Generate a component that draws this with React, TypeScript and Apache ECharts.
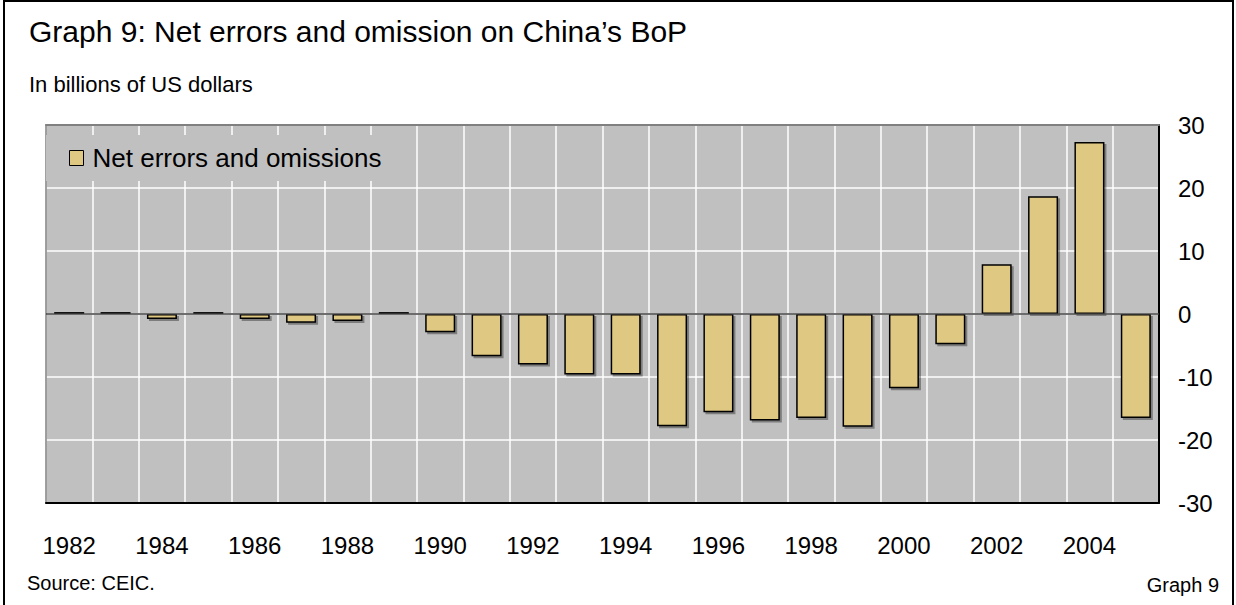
import React, { useEffect, useRef } from "react";
import * as echarts from "echarts";

const years: string[] = [
  "1982", "1983", "1984", "1985", "1986", "1987", "1988", "1989",
  "1990", "1991", "1992", "1993", "1994", "1995", "1996", "1997",
  "1998", "1999", "2000", "2001", "2002", "2003", "2004", "2005",
];
const netErrors: number[] = [
  0.3, 0.3, -0.8, 0.3, -0.8, -1.4, -1.1, 0.3,
  -2.9, -6.7, -8.0, -9.6, -9.6, -17.8, -15.6, -16.9,
  -16.5, -17.9, -11.8, -4.8, 7.9, 18.7, 27.3, -16.5,
];
const seriesName = "Net errors and omissions";
const titleText = "Graph 9: Net errors and omission on China\u2019s BoP";
const subtitleText = "In billions of US dollars";
const sourceText = "Source: CEIC.";
const footerText = "Graph 9";

const FONT = "'Liberation Sans', Arial, Helvetica, sans-serif";

export default function App() {
  const ref = useRef<HTMLDivElement>(null);
  useEffect(() => {
    if (!ref.current) return;
    const chart = echarts.init(ref.current, null, { renderer: "svg" });
    chart.setOption({
      animation: false,
      backgroundColor: "#ffffff",
      textStyle: { fontFamily: FONT },
      title: [
        {
          text: titleText,
          left: 29,
          top: 16,
          padding: 0,
          textStyle: { fontSize: 30, fontWeight: "normal", color: "#000", fontFamily: FONT },
        },
        {
          text: subtitleText,
          left: 29,
          top: 73,
          padding: 0,
          textStyle: { fontSize: 22, fontWeight: "normal", color: "#000", fontFamily: FONT },
        },
        {
          text: sourceText,
          left: 27,
          top: 573,
          padding: 0,
          textStyle: { fontSize: 20, fontWeight: "normal", color: "#000", fontFamily: FONT },
        },
        {
          text: footerText,
          right: 17,
          top: 575,
          padding: 0,
          textStyle: { fontSize: 20, fontWeight: "normal", color: "#000", fontFamily: FONT },
        },
      ],
      legend: {
        data: [seriesName],
        left: 46,
        top: 135,
        orient: "horizontal",
        padding: [10, 6, 10, 23],
        backgroundColor: "#c0c0c0",
        itemWidth: 14,
        itemHeight: 15,
        itemGap: 10,
        icon: "rect",
        itemStyle: {
          color: "#dfc882",
          borderColor: "#000",
          borderWidth: 1,
          shadowBlur: 0,
          shadowOffsetX: 0,
          shadowOffsetY: 0,
          shadowColor: "transparent",
        },
        textStyle: { fontSize: 26, color: "#000", fontFamily: FONT, padding: [0, 0, 0, 4] },
        selectedMode: false,
      },
      grid: {
        left: 46,
        top: 125,
        width: 1113,
        height: 378,
        show: true,
        backgroundColor: "#c0c0c0",
        borderWidth: 0,
      },
      xAxis: [
        {
          type: "category",
          data: years,
          position: "bottom",
          boundaryGap: true,
          axisLine: { onZero: false, lineStyle: { color: "#000", width: 2 } },
          axisTick: { show: false },
          axisLabel: {
            interval: 1,
            fontSize: 24,
            color: "#000",
            margin: 30,
            fontFamily: FONT,
          },
          splitLine: { show: true, interval: 0, lineStyle: { color: "#ffffff", width: 1.5 } },
        },
        {
          type: "category",
          data: years,
          position: "top",
          boundaryGap: true,
          axisLine: { onZero: false, lineStyle: { color: "#808080", width: 2 } },
          axisTick: { show: false },
          axisLabel: { show: false },
          splitLine: { show: false },
        },
      ],
      yAxis: [
        {
          type: "value",
          position: "right",
          min: -30,
          max: 30,
          interval: 10,
          axisLine: { show: true, lineStyle: { color: "#000", width: 2 } },
          axisTick: { show: false },
          axisLabel: {
            fontSize: 24,
            color: "#000",
            margin: 19,
            align: "left",
            fontFamily: FONT,
          },
          splitLine: { show: true, lineStyle: { color: "#ffffff", width: 1.5 } },
        },
        {
          type: "value",
          position: "left",
          min: -30,
          max: 30,
          interval: 10,
          axisLine: { show: true, onZero: false, lineStyle: { color: "#808080", width: 1.5 } },
          axisTick: { show: false },
          axisLabel: { show: false },
          splitLine: { show: false },
        },
      ],
      series: [
        {
          name: seriesName,
          type: "bar",
          xAxisIndex: 0,
          yAxisIndex: 0,
          data: netErrors,
          barWidth: 30,
          itemStyle: {
            color: "#dfc882",
            borderColor: "#000",
            borderWidth: 1.5,
            shadowColor: "rgba(0,0,0,0.35)",
            shadowOffsetX: 2,
            shadowOffsetY: 2,
            shadowBlur: 0,
          },
          markLine: {
            silent: true,
            symbol: "none",
            label: { show: false },
            lineStyle: { color: "#404040", width: 1.5, type: "solid" },
            data: [{ yAxis: 0 }],
          },
        },
      ],
      graphic: [
        {
          type: "rect",
          shape: { x: 4, y: 1, width: 1229, height: 606 },
          style: { fill: "none", stroke: "#000", lineWidth: 2 },
          silent: true,
          z: 100,
        },
      ],
    });
    return () => chart.dispose();
  }, []);
  return (
    <div
      ref={ref}
      style={{ position: "absolute", left: 0, top: 0, width: 1236, height: 605 }}
    />
  );
}
